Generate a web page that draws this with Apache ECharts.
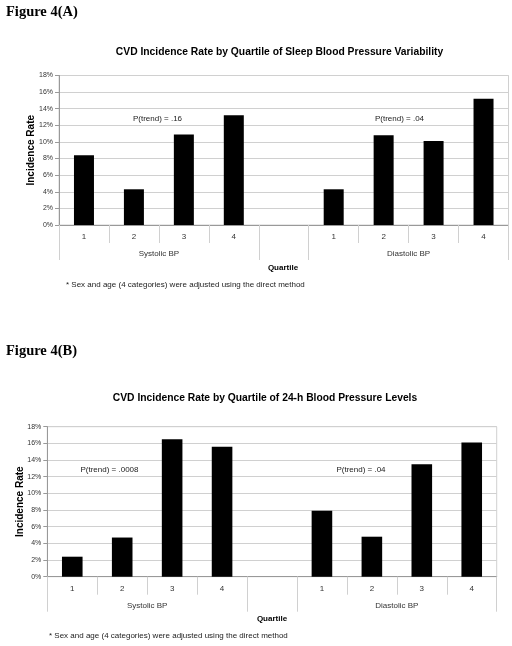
<!DOCTYPE html>
<html>
<head>
<meta charset="utf-8">
<script src="https://cdn.jsdelivr.net/npm/echarts@6/dist/echarts.min.js"></script>
<style>
html,body{margin:0;padding:0;background:#fff;}
#chart{width:512px;height:646px;}
</style>
</head>
<body>
<div id="chart"></div>
<script>
// ---- data ----
const categories = ['1', '2', '3', '4', '', '1', '2', '3', '4'];
const groupLabels = ['Systolic BP', 'Diastolic BP'];
const sleepVariability = [8.4, 4.3, 10.9, 13.2, null, 4.3, 10.8, 10.1, 15.2];
const levels24h = [2.4, 4.7, 16.5, 15.6, null, 7.9, 4.8, 13.5, 16.1];
const titleA = 'CVD Incidence Rate by Quartile of Sleep Blood Pressure Variability';
const titleB = 'CVD Incidence Rate by Quartile of 24-h Blood Pressure Levels';
const trendA = ['P(trend) = .16', 'P(trend) = .04'];
const trendB = ['P(trend) = .0008', 'P(trend) = .04'];
const footnote = '* Sex and age (4 categories) were adjusted using the direct method';
const yMax = 18, yStep = 2;

const SANS = '"Liberation Sans", Arial, sans-serif';
const SERIF = '"Liberation Serif", "Times New Roman", serif';
const grid = '#d0d0d0';

// group layout derived from category structure
const groupBounds = [0, 4, 5, 9];
const groupCenters = [2, 7];

const chart = echarts.init(document.getElementById('chart'), null, {renderer: 'canvas'});

function xAxes(gi) {
  return [
    {
      type: 'category', gridIndex: gi, data: categories,
      axisLine: {show: true, lineStyle: {color: '#999', width: 1}},
      axisTick: {show: true, interval: 0, length: 18, lineStyle: {color: grid}},
      axisLabel: {interval: 0, fontFamily: SANS, fontSize: 8, color: '#333', margin: 8},
      splitLine: {show: false}
    },
    {
      type: 'value', gridIndex: gi, position: 'bottom', min: 0, max: categories.length,
      axisLine: {show: false},
      axisTick: {show: true, customValues: groupBounds, length: 35, lineStyle: {color: grid}},
      axisLabel: {
        customValues: groupCenters, fontFamily: SANS, fontSize: 8, color: '#333', margin: 25,
        formatter: v => groupLabels[groupCenters.indexOf(v)] || ''
      },
      splitLine: {show: false}
    }
  ];
}
function yAxis(gi, gap) {
  return {
    type: 'value', gridIndex: gi, min: 0, max: yMax, interval: yStep,
    name: 'Incidence Rate', nameLocation: 'middle', nameRotate: 90, nameGap: gap,
    nameMoveOverlap: false,
    nameTextStyle: {fontFamily: SANS, fontSize: 10, fontWeight: 'bold', color: '#000'},
    axisLine: {show: true, lineStyle: {color: '#999'}},
    axisTick: {show: true, length: 4, lineStyle: {color: '#999'}},
    axisLabel: {formatter: '{value}%', fontFamily: SANS, fontSize: 7, color: '#333', margin: 6},
    splitLine: {show: true, lineStyle: {color: grid, width: 1}}
  };
}

const option = {
  animation: false,
  backgroundColor: '#fff',
  grid: [
    {left: 59, width: 449.5, top: 75.5, height: 149.5, show: true, borderColor: grid, borderWidth: 1},
    {left: 47.3, width: 449.4, top: 426.7, height: 150, show: true, borderColor: grid, borderWidth: 1}
  ],
  xAxis: xAxes(0).concat(xAxes(1)),
  yAxis: [yAxis(0, 23), yAxis(1, 22)],
  series: [
    {type: 'bar', xAxisIndex: 0, yAxisIndex: 0, data: sleepVariability, barWidth: 20,
     itemStyle: {color: '#000'}},
    {type: 'bar', xAxisIndex: 2, yAxisIndex: 1, data: levels24h, barWidth: 20.6,
     itemStyle: {color: '#000'}}
  ],
  graphic: [
    {type: 'text', left: 6, top: 5, style: {text: 'Figure 4(A)', font: 'bold 14.5px ' + SERIF, fill: '#000'}},
    {type: 'text', left: 6, top: 344, style: {text: 'Figure 4(B)', font: 'bold 14.5px ' + SERIF, fill: '#000'}},
    {type: 'text', x: 279.5, y: 52, style: {text: titleA, font: 'bold 10.3px ' + SANS, fill: '#000', align: 'center', verticalAlign: 'middle'}},
    {type: 'text', x: 265, y: 398, style: {text: titleB, font: 'bold 10.3px ' + SANS, fill: '#000', align: 'center', verticalAlign: 'middle'}},
    {type: 'text', x: 157.5, y: 119, style: {text: trendA[0], font: '8px ' + SANS, fill: '#222', align: 'center', verticalAlign: 'middle'}},
    {type: 'text', x: 399.5, y: 119, style: {text: trendA[1], font: '8px ' + SANS, fill: '#222', align: 'center', verticalAlign: 'middle'}},
    {type: 'text', x: 109.5, y: 470, style: {text: trendB[0], font: '8px ' + SANS, fill: '#222', align: 'center', verticalAlign: 'middle'}},
    {type: 'text', x: 361, y: 470, style: {text: trendB[1], font: '8px ' + SANS, fill: '#222', align: 'center', verticalAlign: 'middle'}},
    {type: 'text', x: 283, y: 268, style: {text: 'Quartile', font: 'bold 8px ' + SANS, fill: '#000', align: 'center', verticalAlign: 'middle'}},
    {type: 'text', x: 272, y: 619, style: {text: 'Quartile', font: 'bold 8px ' + SANS, fill: '#000', align: 'center', verticalAlign: 'middle'}},
    {type: 'text', x: 66, y: 285, style: {text: footnote, font: '8px ' + SANS, fill: '#222', align: 'left', verticalAlign: 'middle'}},
    {type: 'text', x: 49, y: 636, style: {text: footnote, font: '8px ' + SANS, fill: '#222', align: 'left', verticalAlign: 'middle'}}
  ]
};
chart.setOption(option);
</script>
</body>
</html>
